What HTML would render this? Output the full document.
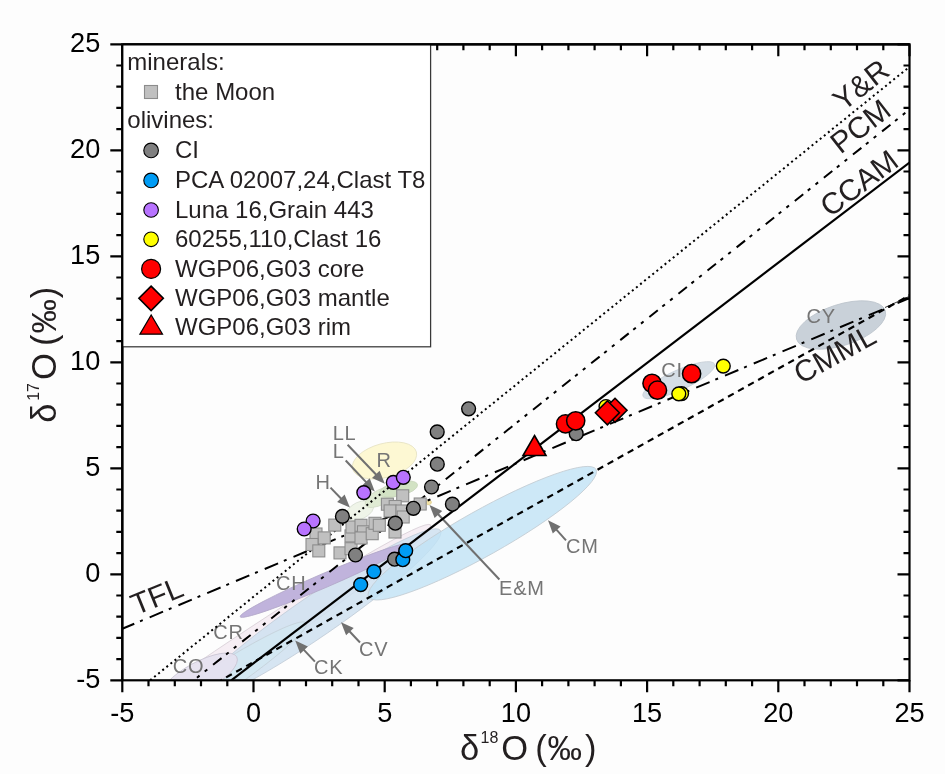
<!DOCTYPE html><html><head><meta charset="utf-8"><style>html,body{margin:0;padding:0;background:#fdfdfd;overflow:hidden;}svg{display:block;font-family:"Liberation Sans",Arial,sans-serif;}</style></head><body>
<svg width="945" height="774" viewBox="0 0 945 774">
<rect width="945" height="774" fill="#fdfdfd"/>
<defs><clipPath id="fr"><rect x="122.3" y="44.3" width="787.2" height="636.0"/></clipPath></defs>
<g clip-path="url(#fr)">
<ellipse cx="223.5" cy="664.8" rx="250" ry="16.2" transform="rotate(-34 223.5 664.8)" fill="#f6eef4" fill-opacity="1.0" stroke="#d9d1d8" stroke-width="0.8"/>
<ellipse cx="316" cy="616" rx="151" ry="20.5" transform="rotate(-34.5 316 616)" fill="#cfe0f0" fill-opacity="0.85" stroke="#c3cdd8" stroke-width="0.8"/>
<ellipse cx="201.1" cy="692.2" rx="125.8" ry="14.7" transform="rotate(-33.4 201.1 692.2)" fill="#d3e7f2" fill-opacity="0.9" stroke="#c6d2da" stroke-width="0.8"/>
<ellipse cx="199.1" cy="677.3" rx="42.8" ry="15" transform="rotate(-28.5 199.1 677.3)" fill="#e5e1ef" fill-opacity="0.9" stroke="#c9c5d3" stroke-width="0.8"/>
<ellipse cx="482.3" cy="533.2" rx="130.4" ry="22.6" transform="rotate(-29.3 482.3 533.2)" fill="#c0e2f5" fill-opacity="0.8" stroke="#c3ccd3" stroke-width="0.8"/>
<ellipse cx="324.7" cy="580.4" rx="92" ry="7" transform="rotate(-23.3 324.7 580.4)" fill="#c0b3dc" fill-opacity="1.0" stroke="#b3a9c9" stroke-width="0.8"/>
<ellipse cx="384.5" cy="460.5" rx="33" ry="17" transform="rotate(-15 384.5 460.5)" fill="#fdf8d3" fill-opacity="1.0" stroke="#e6e2c4" stroke-width="0.8"/>
<ellipse cx="360" cy="510.5" rx="14.5" ry="8.5" transform="rotate(-25 360 510.5)" fill="#eff4e8" fill-opacity="1.0" stroke="#d9dfd3" stroke-width="0.8"/>
<ellipse cx="381" cy="497" rx="17.5" ry="7.5" transform="rotate(-27.5 381 497)" fill="#e0ebd4" fill-opacity="1.0" stroke="#d3dcc8" stroke-width="0.8"/>
<ellipse cx="398.5" cy="489" rx="19.5" ry="7" transform="rotate(-13 398.5 489)" fill="#d2e2c4" fill-opacity="1.0" stroke="#c9d6bc" stroke-width="0.8"/>
<ellipse cx="428.8" cy="502.5" rx="2.6" ry="2.2" transform="rotate(-20 428.8 502.5)" fill="#f3e3a6" fill-opacity="1.0" stroke="#e0d090" stroke-width="0.8"/>
<ellipse cx="678.8" cy="380.2" rx="39.3" ry="10" transform="rotate(-24.3 678.8 380.2)" fill="#d5dee6" fill-opacity="1.0" stroke="#c8d0d8" stroke-width="0.8"/>
<ellipse cx="840.9" cy="325" rx="46.6" ry="20.5" transform="rotate(-18 840.9 325)" fill="#c9d1d9" fill-opacity="1.0" stroke="#bcc4cc" stroke-width="0.8"/>
<text x="332.7" y="440" font-size="20" fill="#757575" letter-spacing="0.8">LL</text>
<text x="332.7" y="458.1" font-size="20" fill="#757575" letter-spacing="0.8">L</text>
<text x="376.4" y="466.7" font-size="20" fill="#757575" letter-spacing="0.8">R</text>
<text x="315.5" y="488.6" font-size="20" fill="#757575" letter-spacing="0.8">H</text>
<text x="499.0" y="594.5" font-size="20" fill="#757575" letter-spacing="0.8">E&amp;M</text>
<text x="566.1" y="553" font-size="20" fill="#757575" letter-spacing="0.8">CM</text>
<text x="276.0" y="589.8" font-size="20" fill="#757575" letter-spacing="0.8">CH</text>
<text x="213.3" y="638.8" font-size="20" fill="#757575" letter-spacing="0.8">CR</text>
<text x="172.7" y="672.7" font-size="20" fill="#757575" letter-spacing="0.8">CO</text>
<text x="313.9" y="674.3" font-size="20" fill="#757575" letter-spacing="0.8">CK</text>
<text x="359" y="655.9" font-size="20" fill="#757575" letter-spacing="0.8">CV</text>
<text x="661.3" y="377.4" font-size="20" fill="#757575" letter-spacing="0.8">CI</text>
<text x="806.5" y="323" font-size="20" fill="#757575" letter-spacing="0.8">CY</text>
<line x1="347.6" y1="444.8" x2="377.2" y2="475.8" stroke="#707070" stroke-width="2.0"/>
<path d="M384.8 483.8L372.0 478.0L379.6 470.8Z" fill="#707070"/>
<line x1="345.7" y1="460.5" x2="367.3" y2="483.4" stroke="#707070" stroke-width="2.0"/>
<path d="M374.8 491.4L362.1 485.5L369.7 478.3Z" fill="#707070"/>
<line x1="330.5" y1="487.6" x2="342.2" y2="499.7" stroke="#707070" stroke-width="2.0"/>
<path d="M349.9 507.6L337.1 501.9L344.6 494.6Z" fill="#707070"/>
<line x1="499.4" y1="579.5" x2="437.0" y2="513.0" stroke="#707070" stroke-width="2.0"/>
<path d="M429.5 505.0L442.2 510.9L434.6 518.1Z" fill="#707070"/>
<line x1="566.0" y1="540.3" x2="555.3" y2="528.4" stroke="#707070" stroke-width="2.0"/>
<path d="M548.0 520.2L560.6 526.4L552.8 533.4Z" fill="#707070"/>
<line x1="314.9" y1="661.6" x2="302.7" y2="648.6" stroke="#707070" stroke-width="2.0"/>
<path d="M295.2 640.6L307.9 646.5L300.3 653.7Z" fill="#707070"/>
<line x1="360.0" y1="642.5" x2="348.5" y2="630.2" stroke="#707070" stroke-width="2.0"/>
<path d="M341.0 622.2L353.7 628.1L346.1 635.3Z" fill="#707070"/>
<line x1="150.1" y1="680.3" x2="909.5" y2="66.8" stroke="#000" stroke-width="2.0" stroke-dasharray="2 3.25" stroke-dashoffset="0"/>
<line x1="193.7" y1="680.3" x2="909.5" y2="109.5" stroke="#000" stroke-width="2.0" stroke-dasharray="10.8 5.8 3.3 6.6 3.3 7.4" stroke-dashoffset="12.4"/>
<line x1="231.3" y1="680.3" x2="909.5" y2="162.5" stroke="#000" stroke-width="2.2"/>
<line x1="122.3" y1="628.8" x2="909.5" y2="298.1" stroke="#000" stroke-width="2.0" stroke-dasharray="14.5 6.2 3 7.5" stroke-dashoffset="1.5"/>
<line x1="220.9" y1="680.3" x2="909.5" y2="295.3" stroke="#000" stroke-width="2.2" stroke-dasharray="6.5 5" stroke-dashoffset="5.5"/>
<line x1="885" y1="307.5" x2="909" y2="296.5" stroke="#000" stroke-width="0.8"/>
<rect x="328.8" y="519.1" width="12" height="12" fill="#c0c0c0" stroke="#8c8c8c" stroke-width="1.1"/>
<rect x="310.0" y="528.0" width="12" height="12" fill="#c0c0c0" stroke="#8c8c8c" stroke-width="1.1"/>
<rect x="318.2" y="531.9" width="12" height="12" fill="#c0c0c0" stroke="#8c8c8c" stroke-width="1.1"/>
<rect x="306.0" y="538.5" width="12" height="12" fill="#c0c0c0" stroke="#8c8c8c" stroke-width="1.1"/>
<rect x="312.8" y="544.9" width="12" height="12" fill="#c0c0c0" stroke="#8c8c8c" stroke-width="1.1"/>
<rect x="334.0" y="546.9" width="12" height="12" fill="#c0c0c0" stroke="#8c8c8c" stroke-width="1.1"/>
<rect x="345.0" y="529.9" width="12" height="12" fill="#c0c0c0" stroke="#8c8c8c" stroke-width="1.1"/>
<rect x="345.0" y="542.7" width="12" height="12" fill="#c0c0c0" stroke="#8c8c8c" stroke-width="1.1"/>
<rect x="346.0" y="521.0" width="12" height="12" fill="#c0c0c0" stroke="#8c8c8c" stroke-width="1.1"/>
<rect x="355.0" y="519.3" width="12" height="12" fill="#c0c0c0" stroke="#8c8c8c" stroke-width="1.1"/>
<rect x="357.5" y="525.8" width="12" height="12" fill="#c0c0c0" stroke="#8c8c8c" stroke-width="1.1"/>
<rect x="355.0" y="532.0" width="12" height="12" fill="#c0c0c0" stroke="#8c8c8c" stroke-width="1.1"/>
<rect x="366.2" y="527.7" width="12" height="12" fill="#c0c0c0" stroke="#8c8c8c" stroke-width="1.1"/>
<rect x="369.0" y="517.3" width="12" height="12" fill="#c0c0c0" stroke="#8c8c8c" stroke-width="1.1"/>
<rect x="373.3" y="519.3" width="12" height="12" fill="#c0c0c0" stroke="#8c8c8c" stroke-width="1.1"/>
<rect x="389.0" y="526.0" width="12" height="12" fill="#c0c0c0" stroke="#8c8c8c" stroke-width="1.1"/>
<rect x="396.7" y="489.8" width="12" height="12" fill="#c0c0c0" stroke="#8c8c8c" stroke-width="1.1"/>
<rect x="381.4" y="498.2" width="12" height="12" fill="#c0c0c0" stroke="#8c8c8c" stroke-width="1.1"/>
<rect x="389.2" y="500.5" width="12" height="12" fill="#c0c0c0" stroke="#8c8c8c" stroke-width="1.1"/>
<rect x="384.1" y="504.9" width="12" height="12" fill="#c0c0c0" stroke="#8c8c8c" stroke-width="1.1"/>
<rect x="396.0" y="505.0" width="12" height="12" fill="#c0c0c0" stroke="#8c8c8c" stroke-width="1.1"/>
<rect x="397.2" y="511.0" width="12" height="12" fill="#c0c0c0" stroke="#8c8c8c" stroke-width="1.1"/>
<rect x="414.2" y="498.0" width="12" height="12" fill="#c0c0c0" stroke="#8c8c8c" stroke-width="1.1"/>
<circle cx="468.6" cy="408.8" r="6.9" fill="#808080" stroke="#000" stroke-width="1.4"/>
<circle cx="437.2" cy="431.9" r="6.9" fill="#808080" stroke="#000" stroke-width="1.4"/>
<circle cx="437.3" cy="464.2" r="6.9" fill="#808080" stroke="#000" stroke-width="1.4"/>
<circle cx="431.5" cy="487.0" r="6.9" fill="#808080" stroke="#000" stroke-width="1.4"/>
<circle cx="452.4" cy="504.2" r="6.9" fill="#808080" stroke="#000" stroke-width="1.4"/>
<circle cx="413.4" cy="508.3" r="6.9" fill="#808080" stroke="#000" stroke-width="1.4"/>
<circle cx="395.3" cy="523.2" r="6.9" fill="#808080" stroke="#000" stroke-width="1.4"/>
<circle cx="342.4" cy="516.4" r="6.9" fill="#808080" stroke="#000" stroke-width="1.4"/>
<circle cx="355.5" cy="555.0" r="6.9" fill="#808080" stroke="#000" stroke-width="1.4"/>
<circle cx="394.6" cy="559.2" r="6.9" fill="#808080" stroke="#000" stroke-width="1.4"/>
<circle cx="576.2" cy="433.7" r="6.9" fill="#808080" stroke="#000" stroke-width="1.4"/>
<circle cx="360.7" cy="584.6" r="6.9" fill="#009cf5" stroke="#000" stroke-width="1.4"/>
<circle cx="373.9" cy="571.6" r="6.9" fill="#009cf5" stroke="#000" stroke-width="1.4"/>
<circle cx="402.8" cy="559.7" r="6.9" fill="#009cf5" stroke="#000" stroke-width="1.4"/>
<circle cx="405.7" cy="550.7" r="6.9" fill="#009cf5" stroke="#000" stroke-width="1.4"/>
<circle cx="313.1" cy="521.0" r="6.9" fill="#b873ff" stroke="#000" stroke-width="1.4"/>
<circle cx="304.2" cy="529.0" r="6.9" fill="#b873ff" stroke="#000" stroke-width="1.4"/>
<circle cx="363.8" cy="492.6" r="6.9" fill="#b873ff" stroke="#000" stroke-width="1.4"/>
<circle cx="393.3" cy="482.4" r="6.9" fill="#b873ff" stroke="#000" stroke-width="1.4"/>
<circle cx="403.3" cy="477.3" r="6.9" fill="#b873ff" stroke="#000" stroke-width="1.4"/>
<circle cx="606.0" cy="406.5" r="6.9" fill="#ffff00" stroke="#000" stroke-width="1.4"/>
<circle cx="681.6" cy="393.6" r="6.9" fill="#ffff00" stroke="#000" stroke-width="1.4"/>
<circle cx="678.8" cy="393.9" r="6.9" fill="#ffff00" stroke="#000" stroke-width="1.4"/>
<circle cx="723.3" cy="366.1" r="6.9" fill="#ffff00" stroke="#000" stroke-width="1.4"/>
<path d="M615.0 398.3L627.0 410.3L615.0 422.3L603.0 410.3Z" fill="#f00" stroke="#000" stroke-width="1.6"/>
<path d="M607.4 400.8L619.4 412.8L607.4 424.8L595.4 412.8Z" fill="#f00" stroke="#000" stroke-width="1.6"/>
<circle cx="565.5" cy="423.9" r="9.1" fill="#ff0000" stroke="#000" stroke-width="1.5"/>
<circle cx="575.7" cy="420.8" r="9.1" fill="#ff0000" stroke="#000" stroke-width="1.5"/>
<circle cx="652.0" cy="383.3" r="9.1" fill="#ff0000" stroke="#000" stroke-width="1.5"/>
<circle cx="657.5" cy="390.2" r="9.1" fill="#ff0000" stroke="#000" stroke-width="1.5"/>
<circle cx="691.6" cy="373.7" r="9.1" fill="#ff0000" stroke="#000" stroke-width="1.5"/>
<path d="M534.5 435.5L546.0 455.5L523.0 455.5Z" fill="#f00" stroke="#000" stroke-width="1.6"/>
</g>
<text x="843" y="112" font-size="30" fill="#231f20" transform="rotate(-38 843 112)" >Y&amp;R</text>
<text x="840.5" y="154.8" font-size="30" fill="#231f20" transform="rotate(-38 840.5 154.8)" >PCM</text>
<text x="830" y="218" font-size="30" fill="#231f20" transform="rotate(-37 830 218)" >CCAM</text>
<text x="136" y="615.5" font-size="30" fill="#231f20" transform="rotate(-22 136 615.5)" >TFL</text>
<text x="801" y="384.5" font-size="30" fill="#231f20" transform="rotate(-29 801 384.5)" >CMML</text>
<rect x="122.3" y="44.3" width="787.2" height="636.0" fill="none" stroke="#000" stroke-width="2.2"/>
<path d="M122.3 680.3v12 M122.3 44.3v12 M122.3 680.3h-12 M909.5 680.3h-12 M148.5 680.3v6 M148.5 44.3v6 M122.3 659.1h-6 M909.5 659.1h-6 M174.8 680.3v6 M174.8 44.3v6 M122.3 637.9h-6 M909.5 637.9h-6 M201.0 680.3v6 M201.0 44.3v6 M122.3 616.7h-6 M909.5 616.7h-6 M227.3 680.3v6 M227.3 44.3v6 M122.3 595.5h-6 M909.5 595.5h-6 M253.5 680.3v12 M253.5 44.3v12 M122.3 574.3h-12 M909.5 574.3h-12 M279.7 680.3v6 M279.7 44.3v6 M122.3 553.1h-6 M909.5 553.1h-6 M306.0 680.3v6 M306.0 44.3v6 M122.3 531.9h-6 M909.5 531.9h-6 M332.2 680.3v6 M332.2 44.3v6 M122.3 510.7h-6 M909.5 510.7h-6 M358.5 680.3v6 M358.5 44.3v6 M122.3 489.5h-6 M909.5 489.5h-6 M384.7 680.3v12 M384.7 44.3v12 M122.3 468.3h-12 M909.5 468.3h-12 M410.9 680.3v6 M410.9 44.3v6 M122.3 447.1h-6 M909.5 447.1h-6 M437.2 680.3v6 M437.2 44.3v6 M122.3 425.9h-6 M909.5 425.9h-6 M463.4 680.3v6 M463.4 44.3v6 M122.3 404.7h-6 M909.5 404.7h-6 M489.7 680.3v6 M489.7 44.3v6 M122.3 383.5h-6 M909.5 383.5h-6 M515.9 680.3v12 M515.9 44.3v12 M122.3 362.3h-12 M909.5 362.3h-12 M542.1 680.3v6 M542.1 44.3v6 M122.3 341.1h-6 M909.5 341.1h-6 M568.4 680.3v6 M568.4 44.3v6 M122.3 319.9h-6 M909.5 319.9h-6 M594.6 680.3v6 M594.6 44.3v6 M122.3 298.7h-6 M909.5 298.7h-6 M620.9 680.3v6 M620.9 44.3v6 M122.3 277.5h-6 M909.5 277.5h-6 M647.1 680.3v12 M647.1 44.3v12 M122.3 256.3h-12 M909.5 256.3h-12 M673.3 680.3v6 M673.3 44.3v6 M122.3 235.1h-6 M909.5 235.1h-6 M699.6 680.3v6 M699.6 44.3v6 M122.3 213.9h-6 M909.5 213.9h-6 M725.8 680.3v6 M725.8 44.3v6 M122.3 192.7h-6 M909.5 192.7h-6 M752.1 680.3v6 M752.1 44.3v6 M122.3 171.5h-6 M909.5 171.5h-6 M778.3 680.3v12 M778.3 44.3v12 M122.3 150.3h-12 M909.5 150.3h-12 M804.5 680.3v6 M804.5 44.3v6 M122.3 129.1h-6 M909.5 129.1h-6 M830.8 680.3v6 M830.8 44.3v6 M122.3 107.9h-6 M909.5 107.9h-6 M857.0 680.3v6 M857.0 44.3v6 M122.3 86.7h-6 M909.5 86.7h-6 M883.3 680.3v6 M883.3 44.3v6 M122.3 65.5h-6 M909.5 65.5h-6 M909.5 680.3v12 M909.5 44.3v12 M122.3 44.3h-12 M909.5 44.3h-12" stroke="#000" stroke-width="2.2" fill="none"/>
<rect x="122.3" y="44.3" width="308.3" height="302.5" fill="#fff" stroke="#383838" stroke-width="1.25"/>
<path d="M122.3 44.3H909.5M122.3 44.3V680.3" stroke="#000" stroke-width="2.2"/>
<text x="127.3" y="69.6" font-size="24" fill="#231f20" >minerals:</text>
<rect x="144.5" y="85.5" width="13" height="13" fill="#c0c0c0" stroke="#8c8c8c" stroke-width="1.1"/>
<text x="175.1" y="99.6" font-size="24" fill="#231f20" >the Moon</text>
<text x="127.3" y="128.4" font-size="24" fill="#231f20" >olivines:</text>
<circle cx="151.1" cy="150.4" r="7.3" fill="#808080" stroke="#000" stroke-width="1.1"/>
<text x="175" y="157.8" font-size="24" fill="#231f20" >CI</text>
<circle cx="151.1" cy="180.4" r="7.3" fill="#009cf5" stroke="#000" stroke-width="1.1"/>
<text x="175" y="188.4" font-size="24" fill="#231f20" >PCA 02007,24,Clast T8</text>
<circle cx="151.1" cy="210.0" r="7.3" fill="#b873ff" stroke="#000" stroke-width="1.1"/>
<text x="175" y="217.8" font-size="24" fill="#231f20" >Luna 16,Grain 443</text>
<circle cx="151.1" cy="239.3" r="7.3" fill="#ffff00" stroke="#000" stroke-width="1.1"/>
<text x="175" y="246.7" font-size="24" fill="#231f20" >60255,110,Clast 16</text>
<circle cx="151.1" cy="268.9" r="9.5" fill="#ff0000" stroke="#000" stroke-width="1.2"/>
<text x="175" y="276.5" font-size="24" fill="#231f20" >WGP06,G03 core</text>
<path d="M151.1 286.1L163.3 298.3L151.1 310.5L138.9 298.3Z" fill="#f00" stroke="#000" stroke-width="1.6"/>
<text x="175" y="306.4" font-size="24" fill="#231f20" >WGP06,G03 mantle</text>
<path d="M151.2 315L162.5 334.2L139.9 334.2Z" fill="#f00" stroke="#000" stroke-width="1.2"/>
<text x="175" y="335.3" font-size="24" fill="#231f20" >WGP06,G03 rim</text>
<text transform="translate(122.3,721.7) scale(0.96,1)" font-size="28.3" text-anchor="middle" fill="#000">-5</text>
<text transform="translate(100.3,688.4) scale(0.96,1)" font-size="28.3" text-anchor="end" fill="#000">-5</text>
<text transform="translate(253.5,721.7) scale(0.96,1)" font-size="28.3" text-anchor="middle" fill="#000">0</text>
<text transform="translate(100.3,582.4) scale(0.96,1)" font-size="28.3" text-anchor="end" fill="#000">0</text>
<text transform="translate(384.7,721.7) scale(0.96,1)" font-size="28.3" text-anchor="middle" fill="#000">5</text>
<text transform="translate(100.3,476.4) scale(0.96,1)" font-size="28.3" text-anchor="end" fill="#000">5</text>
<text transform="translate(515.9,721.7) scale(0.96,1)" font-size="28.3" text-anchor="middle" fill="#000">10</text>
<text transform="translate(100.3,370.4) scale(0.96,1)" font-size="28.3" text-anchor="end" fill="#000">10</text>
<text transform="translate(647.1,721.7) scale(0.96,1)" font-size="28.3" text-anchor="middle" fill="#000">15</text>
<text transform="translate(100.3,264.4) scale(0.96,1)" font-size="28.3" text-anchor="end" fill="#000">15</text>
<text transform="translate(778.3,721.7) scale(0.96,1)" font-size="28.3" text-anchor="middle" fill="#000">20</text>
<text transform="translate(100.3,158.4) scale(0.96,1)" font-size="28.3" text-anchor="end" fill="#000">20</text>
<text transform="translate(909.5,721.7) scale(0.96,1)" font-size="28.3" text-anchor="middle" fill="#000">25</text>
<text transform="translate(100.3,52.4) scale(0.96,1)" font-size="28.3" text-anchor="end" fill="#000">25</text>
<text font-size="34.5" fill="#231f20" y="759.9"><tspan x="459.95">δ</tspan><tspan x="480.5" y="742.8" font-size="16">18</tspan><tspan x="501.2" y="759.9">O</tspan><tspan x="535.3">(</tspan><tspan x="547.5">‰</tspan><tspan x="585.0">)</tspan></text>
<text transform="translate(56.3,0) rotate(-90)" font-size="34.5" fill="#231f20" y="0"><tspan x="-422.75">δ</tspan><tspan x="-400.8" y="-17.3" font-size="16">17</tspan><tspan x="-380.0" y="0">O</tspan><tspan x="-346.1">(</tspan><tspan x="-333.6">‰</tspan><tspan x="-298.3">)</tspan></text>
</svg></body></html>
